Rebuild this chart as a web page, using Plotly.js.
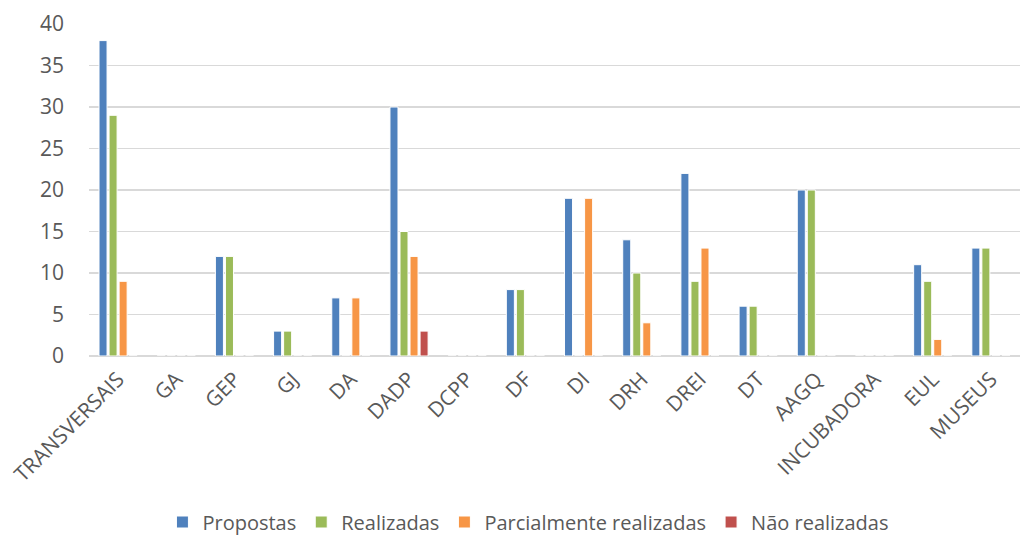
<!DOCTYPE html>
<html>
<head>
<meta charset="utf-8">
<script src="https://cdn.plot.ly/plotly-3.0.1.min.js"></script>
<style>html,body{margin:0;padding:0;background:#fff;}#chart{width:1021px;height:542px;}</style>
</head>
<body>
<div id="chart"></div>
<script>
const categories = ["TRANSVERSAIS","GA","GEP","GJ","DA","DADP","DCPP","DF","DI","DRH","DREI","DT","AAGQ","INCUBADORA","EUL","MUSEUS"];
const propostas = [38,0,12,3,7,30,0,8,19,14,22,6,20,0,11,13];
const realizadas = [29,0,12,3,0,15,0,8,0,10,9,6,20,0,9,13];
const parcialmente = [9,0,0,0,7,12,0,0,19,4,13,0,0,0,2,0];
const naoRealizadas = [0,0,0,0,0,3,0,0,0,0,0,0,0,0,0,0];
const seriesNames = ["Propostas","Realizadas","Parcialmente realizadas","Não realizadas"];
const colors = ["#4F81BD","#9BBB59","#F79646","#C0504D"];
const yTicks = [0,5,10,15,20,25,30,35,40];

const allSeries = [propostas, realizadas, parcialmente, naoRealizadas];
const traces = allSeries.map((vals, i) => ({
  type: "bar",
  name: seriesNames[i],
  x: categories,
  y: vals,
  marker: {color: colors[i], line: {color: "#ffffff", width: 1}},
  hoverinfo: "x+y+name"
}));

const layout = {
  width: 1021, height: 542,
  margin: {l: 89, r: 1, t: 24, b: 186, autoexpand: false},
  paper_bgcolor: "#fff", plot_bgcolor: "#fff",
  font: {family: "'Open Sans', 'Noto Sans', sans-serif", color: "#595959", size: 18},
  barmode: "group",
  bargap: 0.31,
  bargroupgap: 0.2,
  xaxis: {
    type: "category",
    tickangle: -45,
    tickfont: {size: 21, color: "#595959"},
    showgrid: false, showline: false, zeroline: false, ticks: "",
    ticklabelstandoff: 6,
    automargin: false
  },
  yaxis: {
    range: [0, 40],
    tickvals: yTicks,
    ticktext: yTicks.map(String),
    tickfont: {size: 21, color: "#595959"},
    showgrid: true, gridcolor: "#d9d9d9", gridwidth: 1.5,
    zeroline: true, zerolinecolor: "#d9d9d9", zerolinewidth: 1.5,
    showline: false, ticks: "", ticklen: 0,
    ticklabelstandoff: 24,
    automargin: false
  },
  showlegend: true,
  legend: {
    orientation: "h",
    x: 0.472, xanchor: "center",
    y: -0.5, yanchor: "middle",
    font: {size: 20, color: "#595959"},
    itemwidth: 30,
    traceorder: "normal"
  }
};

Plotly.newPlot("chart", traces, layout, {displayModeBar: false, staticPlot: true});
</script>
</body>
</html>
